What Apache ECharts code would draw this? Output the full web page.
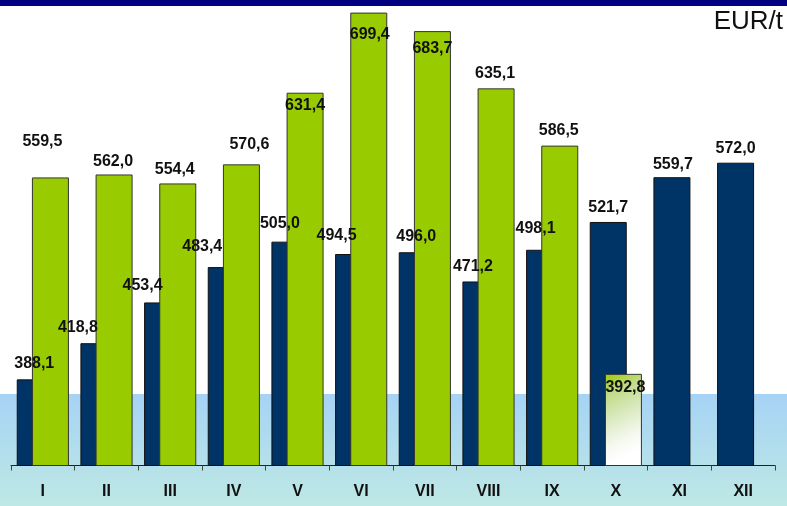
<!DOCTYPE html>
<html>
<head>
<meta charset="utf-8">
<title>EUR/t</title>
<script src="https://cdn.jsdelivr.net/npm/echarts@6/dist/echarts.min.js"></script>
<style>
  html, body { margin: 0; padding: 0; background: #fff; }
  #chart { width: 787px; height: 506px; }
</style>
</head>
<body>
<div id="chart"></div>
<script>
// months on the x axis
const months = ['I', 'II', 'III', 'IV', 'V', 'VI', 'VII', 'VIII', 'IX', 'X', 'XI', 'XII'];
// dark blue bars (previous year)
const prevYear = [388.1, 418.8, 453.4, 483.4, 505.0, 494.5, 496.0, 471.2, 498.1, 521.7, 559.7, 572.0];
// green bars (current year, X not complete)
const currentYear = [559.5, 562.0, 554.4, 570.6, 631.4, 699.4, 683.7, 635.1, 586.5, 392.8];
const partialMonth = 9;

// hand placed labels, as in the original: [dx, dy] from the bar top
const prevLabelShift = [[-1, -16], [-21, -16], [-20, -17], [-24, -20], [-10, -18], [-17, -18],
  [-1, -16], [-8, -15], [-9, -21], [0, -14], [1, -13], [0, -14]];
const currLabelShift = [[-8, -36], [-1, -13], [-3, -14], [8, -20], [0, 13], [1, 22],
  [0, 17], [-1, -15], [-1, -15], [2, 14]];

const fmt = v => v.toFixed(1).replace('.', ',');

const labelBase = {
  show: true,
  position: 'top',
  distance: 0,
  verticalAlign: 'middle',
  fontFamily: 'Liberation Sans',
  fontSize: 16,
  fontWeight: 'bold',
  color: '#111',
  formatter: p => fmt(p.value)
};

const chart = echarts.init(document.getElementById('chart'));

const option = {
  animation: false,
  grid: { left: 11, right: 12, top: 6, bottom: 40.5 },
  graphic: [
    { type: 'rect', z: -10, silent: true, shape: { x: 0, y: 394, width: 787, height: 112 },
      style: { fill: new echarts.graphic.LinearGradient(0, 0, 0, 1, [
        { offset: 0, color: '#a6d3f5' }, { offset: 1, color: '#bee8e4' }]) } },
    { type: 'rect', z: 10, silent: true, shape: { x: 0, y: 0, width: 787, height: 6 },
      style: { fill: '#000080' } },
    { type: 'text', right: 4, top: 9, silent: true,
      style: { text: 'EUR/t', fontFamily: 'Liberation Sans', fontSize: 26, fill: '#111' } }
  ],
  xAxis: {
    type: 'category',
    data: months,
    axisLine: { lineStyle: { color: '#222', width: 1 } },
    axisTick: { show: true, length: 5, lineStyle: { color: '#444' } },
    axisLabel: { margin: 18, fontFamily: 'Liberation Sans', fontSize: 16, fontWeight: 'bold', color: '#111' }
  },
  yAxis: {
    type: 'value',
    min: 315,
    max: 705,
    show: false,
    splitLine: { show: false }
  },
  series: [
    {
      name: 'prev',
      type: 'bar',
      barWidth: 37,
      barGap: '-59%',
      itemStyle: { color: '#003366', borderColor: '#111', borderWidth: 1 },
      label: labelBase,
      data: prevYear.map((v, i) => ({ value: v, label: { offset: prevLabelShift[i] } }))
    },
    {
      name: 'current',
      type: 'bar',
      barWidth: 37,
      barGap: '-59%',
      itemStyle: { color: '#99cc00', borderColor: '#333', borderWidth: 1 },
      label: labelBase,
      data: currentYear.map((v, i) => {
        const d = { value: v, label: { offset: currLabelShift[i] } };
        if (i === partialMonth) {
          // unfinished month: green fading to white
          d.itemStyle = {
            color: new echarts.graphic.LinearGradient(0, 0, 1, 0.8, [
              { offset: 0, color: '#99cc00' }, { offset: 0.25, color: '#c2db88' },
              { offset: 0.5, color: '#d8e8bb' }, { offset: 0.8, color: '#f4f8ee' }, { offset: 1, color: '#ffffff' }])
          };
        }
        return d;
      })
    }
  ]
};

chart.setOption(option);
</script>
</body>
</html>
